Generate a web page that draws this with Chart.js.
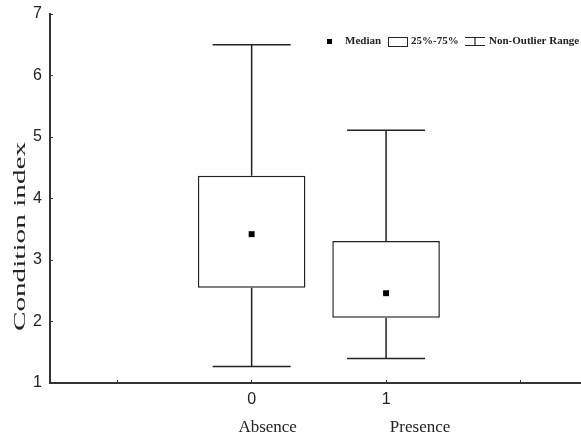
<!DOCTYPE html>
<html>
<head>
<meta charset="utf-8">
<script src="https://cdn.jsdelivr.net/npm/chart.js@4.4.0/dist/chart.umd.min.js"></script>
<style>
  html, body { margin: 0; padding: 0; background: #fff; }
</style>
</head>
<body>
<canvas id="chart" width="581" height="436"></canvas>
<script>
// groups on the x axis (coded 0 / 1)
const groupNames = ['Absence', 'Presence'];
const groupCodes = [0, 1];
// box plot statistics
const mins    = [1.27, 1.40];
const q1s     = [2.55, 2.06];
const medians = [3.42, 2.46];
const q3s     = [4.37, 3.31];
const maxs    = [6.50, 5.11];
const xTickValues = [-1, 0, 1, 2];

const ink = '#222';
const capHalf = 0.29;          // whisker cap half width, in x units
const nameShift = [16, 34];    // name labels sit a bit right of the tick

// whiskers + caps
const whiskers = {
  id: 'whiskers',
  afterDatasetsDraw(chart) {
    const { ctx, scales: { x, y } } = chart;
    ctx.save();
    ctx.strokeStyle = ink;
    ctx.lineWidth = 1.5;
    groupCodes.forEach((g, i) => {
      const cx = x.getPixelForValue(g);
      const l = x.getPixelForValue(g - capHalf), r = x.getPixelForValue(g + capHalf);
      const yMax = y.getPixelForValue(maxs[i]), yMin = y.getPixelForValue(mins[i]);
      ctx.beginPath();
      ctx.moveTo(cx, y.getPixelForValue(q3s[i])); ctx.lineTo(cx, yMax);
      ctx.moveTo(cx, y.getPixelForValue(q1s[i])); ctx.lineTo(cx, yMin);
      ctx.moveTo(l, yMax); ctx.lineTo(r, yMax);
      ctx.moveTo(l, yMin); ctx.lineTo(r, yMin);
      ctx.stroke();
    });
    ctx.restore();
  }
};

// y title, group names and the legend line
const labels = {
  id: 'labels',
  afterDraw(chart) {
    const { ctx, scales: { x } } = chart;
    ctx.save();
    ctx.fillStyle = ink;

    // y title (stretched like the original)
    ctx.save();
    ctx.translate(25, 236.5);
    ctx.rotate(-Math.PI / 2);
    ctx.scale(1.72, 1);
    ctx.font = '17px "Liberation Serif"';
    ctx.textAlign = 'center';
    ctx.textBaseline = 'alphabetic';
    ctx.fillText('Condition index', 0, 0);
    ctx.restore();

    // group names under the codes
    ctx.font = '17px "Liberation Serif"';
    ctx.textAlign = 'center';
    ctx.textBaseline = 'alphabetic';
    groupNames.forEach((n, i) => {
      ctx.fillText(n, x.getPixelForValue(groupCodes[i]) + nameShift[i], 432);
    });

    // legend
    const ly = 41.5;
    ctx.font = 'bold 11px "Liberation Serif"';
    ctx.textAlign = 'left';
    ctx.textBaseline = 'middle';
    ctx.fillStyle = '#000';
    ctx.fillRect(327, ly - 2.5, 5, 5);
    ctx.fillStyle = ink;
    ctx.fillText('Median', 345, ly);
    ctx.strokeStyle = ink;
    ctx.lineWidth = 1;
    ctx.strokeRect(388.5, 37.5, 19, 9);
    ctx.fillText('25%-75%', 411, ly);
    ctx.lineWidth = 1.2;
    ctx.beginPath();
    ctx.moveTo(465, 37.5); ctx.lineTo(485, 37.5);
    ctx.moveTo(475, 37.5); ctx.lineTo(475, 45.5);
    ctx.moveTo(465, 45.5); ctx.lineTo(485, 45.5);
    ctx.stroke();
    ctx.fillText('Non-Outlier Range', 489, ly);
    ctx.restore();
  }
};

new Chart(document.getElementById('chart'), {
  type: 'bar',
  data: {
    datasets: [
      {
        type: 'scatter',
        label: 'Median',
        data: groupCodes.map((g, i) => ({ x: g, y: medians[i] })),
        pointStyle: 'rect',
        pointRadius: 4.2,
        backgroundColor: '#000',
        borderWidth: 0,
        order: 0
      },
      {
        label: '25%-75%',
        data: groupCodes.map((g, i) => ({ x: g, y: [q1s[i], q3s[i]] })),
        backgroundColor: '#fff',
        borderColor: ink,
        borderWidth: 1.5,
        borderSkipped: false,
        categoryPercentage: 1,
        barPercentage: 0.8,
        order: 1
      }
    ]
  },
  options: {
    responsive: false,
    animation: false,
    events: [],
    layout: { autoPadding: false, padding: { top: 14, right: 0, left: 0, bottom: 0 } },
    plugins: { legend: { display: false }, tooltip: { enabled: false } },
    scales: {
      x: {
        type: 'linear',
        offset: false,
        min: -1.5,
        max: 2.45,
        afterBuildTicks: s => { s.ticks = xTickValues.map(v => ({ value: v })); },
        afterFit: s => { s.height = 53; s.paddingLeft = 0; s.paddingRight = 0; },
        ticks: {
          callback: v => groupCodes.includes(v) ? String(v) : '',
          color: ink,
          font: { family: '"Liberation Sans"', size: 16 },
          padding: 10,
          maxRotation: 0
        },
        grid: { offset: false, drawOnChartArea: false, tickLength: -3, color: '#333', lineWidth: 1 },
        border: { color: '#333', width: 2 }
      },
      y: {
        min: 1,
        max: 7,
        ticks: {
          stepSize: 1,
          color: ink,
          font: { family: '"Liberation Sans"', size: 16 },
          padding: 11
        },
        afterFit: s => { s.width = 50; s.paddingTop = 0; s.paddingBottom = 0; },
        grid: { drawOnChartArea: false, tickLength: -3, color: '#333', lineWidth: 1 },
        border: { color: '#333', width: 2 }
      }
    }
  },
  plugins: [whiskers, labels]
});
</script>
</body>
</html>
